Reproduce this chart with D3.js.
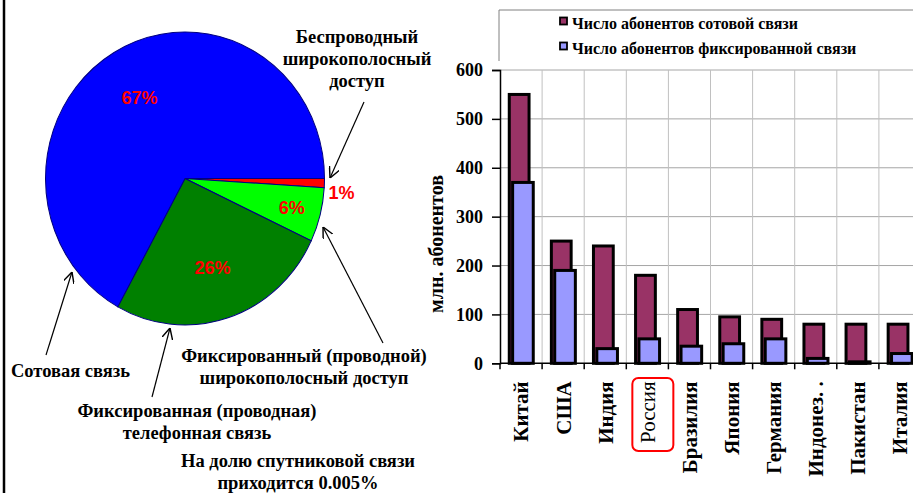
<!DOCTYPE html>
<html>
<head>
<meta charset="utf-8">
<script src="https://d3js.org/d3.v7.min.js"></script>
</head>
<body style="margin:0;background:#fff">
<svg id="chart"></svg>
<script>
// pie data (clockwise from 3 o'clock)
const pieNames = ["Беспроводный широкополосный доступ", "Фиксированный (проводной) широкополосный доступ",
                  "Фиксированная (проводная) телефонная связь", "Сотовая связь"];
const pieValues = [1, 6, 26, 67];
const pieColors = ["#ff0000", "#00ff00", "#008000", "#0000ff"];

// bar data
const countries = ["Китай", "США", "Индия", "Россия", "Бразилия", "Япония", "Германия", "Индонез. .", "Пакистан", "Италия"];
const cellular = [550, 250, 240, 180, 110, 95, 90, 80, 80, 80];
const fixedLine = [370, 190, 30, 50, 35, 40, 50, 10, 3, 20];
const yTicks = [0, 100, 200, 300, 400, 500, 600];
const seriesNames = ["Число абонентов сотовой связи", "Число абонентов фиксированной связи"];
const seriesColors = ["#993366", "#9999ff"];

const SERIF = "Liberation Serif";
const width = 913, height = 493;
const svg = d3.select("#chart").attr("width", width).attr("height", height);
svg.append("rect").attr("width", width).attr("height", height).attr("fill", "#fff");

// left border
svg.append("line").attr("x1", 4).attr("x2", 4).attr("y1", 0).attr("y2", height)
  .attr("stroke", "#000").attr("stroke-width", 2.5);

function serif(sel, size, weight) {
  return sel.attr("font-family", SERIF).attr("font-weight", weight || "bold").attr("font-size", size).attr("fill", "#000");
}

// ---------- pie ----------
const cx = 185, cy = 178.5, r = 139.5;
const pie = d3.pie().sort(null).startAngle(Math.PI / 2).endAngle(Math.PI / 2 + 2 * Math.PI);
const arcs = pie(pieValues);
const arc = d3.arc().innerRadius(0).outerRadius(r);

const pg = svg.append("g").attr("transform", `translate(${cx},${cy}) scale(1,1.05)`);
pg.selectAll("path").data(arcs).join("path")
  .attr("d", arc)
  .attr("fill", (d, i) => pieColors[i])
  .attr("stroke", "#000080").attr("stroke-width", 1);

arcs.forEach(d => {
  const a = (d.startAngle + d.endAngle) / 2 - Math.PI / 2;
  let lr = d.value >= 20 ? 0.64 * r : 0.79 * r;
  let x = cx + Math.cos(a) * lr, y = cy + Math.sin(a) * lr * 1.05;
  let anchor = "middle";
  if (d.value < 3) { x = cx + r + 4; y = cy + 14; anchor = "start"; }
  svg.append("text")
    .attr("x", x).attr("y", y).attr("dy", "0.35em")
    .attr("text-anchor", anchor)
    .attr("font-family", "Liberation Sans, Arial, sans-serif")
    .attr("font-weight", "bold").attr("font-size", 18)
    .attr("fill", "#ff0000")
    .text(d.value + "%");
});

// annotations
const defs = svg.append("defs");
defs.append("marker").attr("id", "arr").attr("viewBox", "0 0 10 10")
  .attr("refX", 10).attr("refY", 5).attr("markerWidth", 11).attr("markerHeight", 11)
  .attr("markerUnits", "userSpaceOnUse").attr("orient", "auto")
  .append("path").attr("d", "M0,0L10,5L0,10").attr("fill", "none").attr("stroke", "#000").attr("stroke-width", 1.3);

function note(lines, x, y0, anchor) {
  const t = serif(svg.append("text"), 18.5).attr("text-anchor", anchor || "middle");
  lines.forEach((s, i) => t.append("tspan").attr("x", x).attr("y", y0 + i * 22).text(s));
}
function arrow(x1, y1, x2, y2) {
  svg.append("line").attr("x1", x1).attr("y1", y1).attr("x2", x2).attr("y2", y2)
    .attr("stroke", "#000").attr("stroke-width", 1.2).attr("marker-end", "url(#arr)");
}
note(["Беспроводный", "широкополосный", "доступ"], 357, 43);
arrow(364, 102, 330, 178);
note(["Фиксированный (проводной)", "широкополосный доступ"], 304, 362);
arrow(383, 343, 323, 227);
note(["Сотовая связь"], 11, 377, "start");
arrow(46, 355, 72, 272);
note(["Фиксированная (проводная)", "телефонная связь"], 197, 417);
arrow(152, 397, 170, 328);
note(["На долю спутниковой связи", "приходится 0.005%"], 298, 467);

// ---------- bar chart ----------
const x0 = 500, bw = 42.1;
const x = d3.scaleBand().domain(countries).range([x0, x0 + bw * countries.length]).padding(0);
const y = d3.scaleLinear().domain([0, 600]).range([363.3, 70]);

// legend frame
svg.append("path").attr("d", `M${x0 - 1},61V10H${width}`).attr("fill", "none").attr("stroke", "#808080").attr("stroke-width", 1);
seriesNames.forEach((s, i) => {
  const ly = 23 + i * 25;
  svg.append("rect").attr("x", 560).attr("y", ly - 5.5).attr("width", 7).attr("height", 7)
    .attr("fill", seriesColors[i]).attr("stroke", "#000").attr("stroke-width", 1.8);
  serif(svg.append("text"), 16).attr("x", 572).attr("y", ly).attr("dy", "0.35em").text(s);
});

// grid
svg.append("g").selectAll("line").data(yTicks.slice(1)).join("line")
  .attr("x1", x0).attr("x2", width).attr("y1", d => y(d)).attr("y2", d => y(d))
  .attr("stroke", "#a6a6a6").attr("stroke-width", 1);
svg.append("g").selectAll("line").data(countries.slice(1)).join("line")
  .attr("x1", d => x(d)).attr("x2", d => x(d)).attr("y1", y(600)).attr("y2", y(0))
  .attr("stroke", "#c0c0c0").attr("stroke-width", 1);

// bars
const bars = svg.append("g");
bars.selectAll(".cell").data(countries).join("rect").attr("class", "cell")
  .attr("x", d => x(d) + 0.22 * bw).attr("width", 0.47 * bw)
  .attr("y", (d, i) => y(cellular[i])).attr("height", (d, i) => y(0) - y(cellular[i]))
  .attr("fill", seriesColors[0]).attr("stroke", "#000").attr("stroke-width", 3);
bars.selectAll(".fix").data(countries).join("rect").attr("class", "fix")
  .attr("x", d => x(d) + 0.3 * bw).attr("width", 0.49 * bw)
  .attr("y", (d, i) => y(fixedLine[i])).attr("height", (d, i) => y(0) - y(fixedLine[i]))
  .attr("fill", seriesColors[1]).attr("stroke", "#000").attr("stroke-width", 3);

// y axis
const yAxis = d3.axisLeft(y).tickValues(yTicks).tickSize(8).tickPadding(9);
const ya = svg.append("g").attr("transform", `translate(${x0},0)`).call(yAxis);
ya.select(".domain").attr("stroke", "#000").attr("stroke-width", 1.5);
ya.selectAll(".tick line").attr("stroke", "#000").attr("stroke-width", 1.5);
serif(ya.selectAll(".tick text"), 18);

// x axis
const xa = svg.append("g").attr("transform", `translate(0,${y(0)})`);
xa.append("line").attr("x1", x0).attr("x2", width).attr("stroke", "#000").attr("stroke-width", 1.5);
xa.selectAll(".tk").data(countries).join("line").attr("class", "tk")
  .attr("x1", d => x(d)).attr("x2", d => x(d)).attr("y1", 0).attr("y2", 6)
  .attr("stroke", "#000").attr("stroke-width", 1.5);
serif(xa.selectAll("text").data(countries).join("text"), 21)
  .attr("font-weight", d => d === "Россия" ? "normal" : "bold")
  .attr("text-anchor", "end")
  .attr("transform", d => `translate(${x(d) + bw / 2},18) rotate(-90)`)
  .attr("dy", "0.35em")
  .text(d => d);

// highlight Russia
svg.append("rect").attr("x", x("Россия") + bw / 2 - 15).attr("y", 378).attr("width", 41).attr("height", 73)
  .attr("rx", 6).attr("fill", "none").attr("stroke", "#ff0000").attr("stroke-width", 2);

// y title
serif(svg.append("text"), 20).attr("text-anchor", "middle")
  .attr("transform", "translate(436,244) rotate(-90)").attr("dy", "0.35em").text("млн. абонентов");
</script>
</body>
</html>
